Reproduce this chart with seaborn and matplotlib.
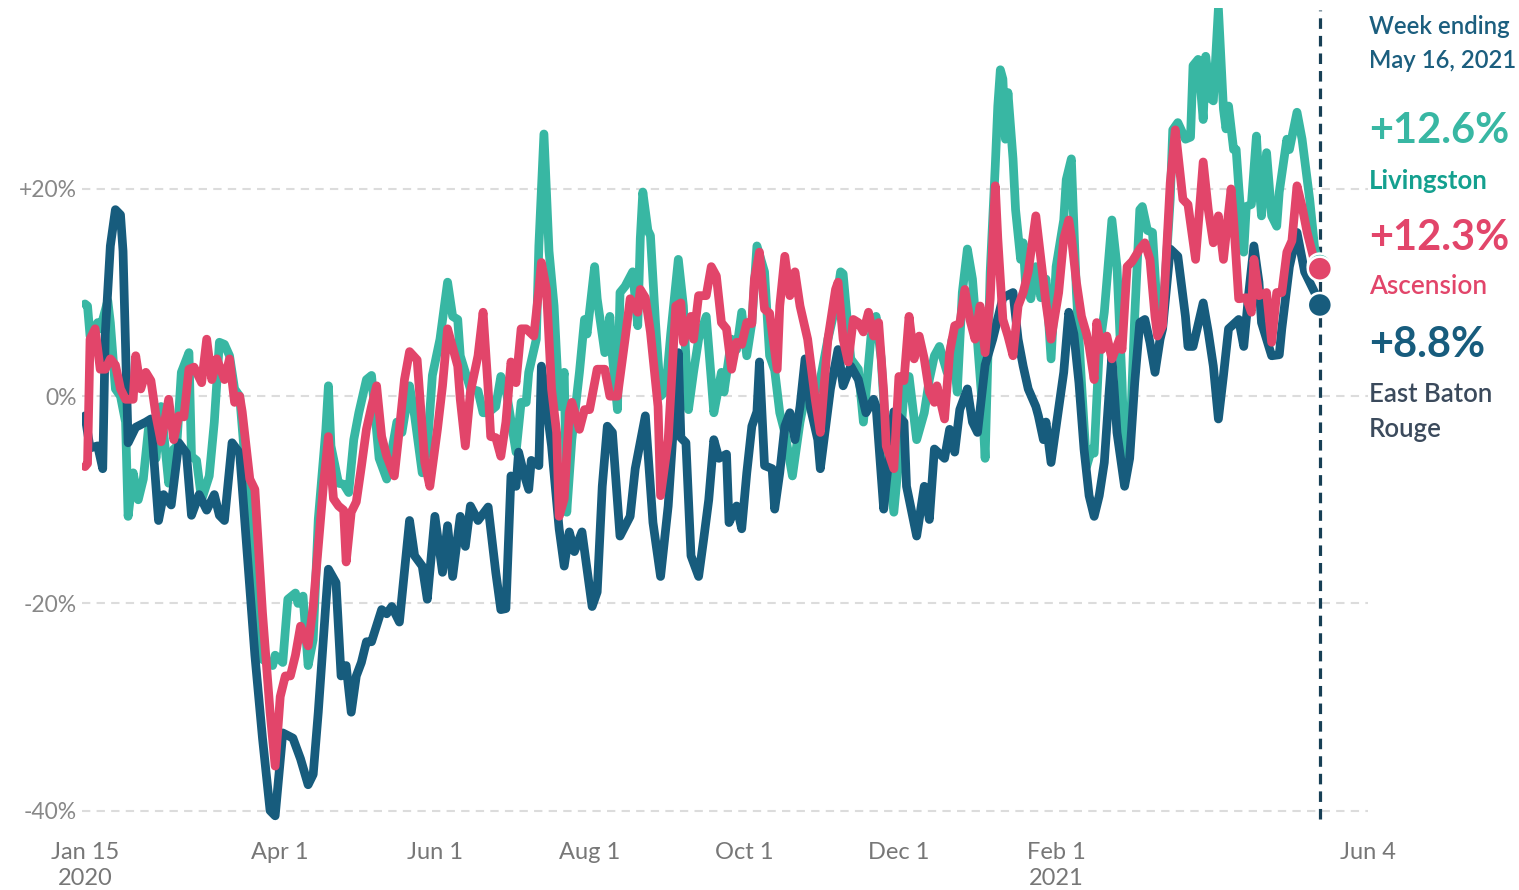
import numpy as np
import pandas as pd
import matplotlib
matplotlib.use("Agg")
import matplotlib.pyplot as plt
import seaborn as sns

# ---------------- data (days since Jan 15, 2020 ; % change) ----------------
start = pd.Timestamp("2020-01-15")

ebr_days = [0, 2, 5, 7, 8, 10, 12, 14, 15, 17,
            20, 24, 26, 29, 31, 34, 37, 40, 42, 45,
            48, 51, 53, 55, 58, 61, 63, 67, 70, 73,
            75, 78, 82, 85, 88, 90, 92, 95, 96, 99,
            101, 103, 105, 107, 109, 111, 113, 117, 119, 121,
            124, 128, 130, 133, 135, 138, 141, 143, 145, 148,
            150, 152, 155, 159, 162, 164, 166, 168, 170, 171,
            173, 175, 176, 179, 180, 183, 184, 187, 189, 191,
            193, 196, 200, 202, 204, 206, 208, 211, 215, 217,
            221, 224, 227, 230, 234, 235, 237, 239, 242, 244,
            246, 248, 250, 253, 254, 257, 259, 261, 263, 265,
            266, 268, 271, 272, 274, 276, 278, 280, 282, 284,
            286, 289, 290, 294, 297, 299, 302, 305, 308, 311,
            312, 315, 316, 319, 323, 324, 328, 331, 333, 335,
            339, 341, 343, 345, 348, 350, 352, 355, 358, 360,
            362, 366, 368, 370, 372, 375, 376, 378, 379, 381,
            383, 386, 388, 390, 392, 394, 396, 398, 400, 402,
            404, 405, 407, 410, 412, 414, 416, 418, 420, 422,
            424, 425, 428, 431, 434, 435, 437, 441, 443, 445,
            447, 449, 451, 455, 457, 459, 461, 463, 464, 468,
            471, 472, 475, 478, 481, 485, 487]
ebr_vals = [-1.9, -5.0, -4.8, -7.0, 6.0, 14.5, 18.0, 17.5, 14.0, -4.5,
            -3.0, -2.5, -2.2, -12.0, -9.5, -10.5, -4.5, -5.5, -11.5, -9.5,
            -11.0, -9.5, -11.5, -12.0, -4.5, -5.5, -12.0, -25.0, -33.0, -40.0,
            -40.5, -32.5, -33.0, -35.0, -37.5, -36.5, -30.5, -20.0, -16.7, -18.0,
            -27.0, -26.0, -30.5, -27.0, -25.7, -23.7, -23.7, -20.6, -21.0, -20.3,
            -21.8, -12.0, -15.4, -16.4, -19.6, -11.6, -17.0, -12.5, -17.4, -11.6,
            -14.5, -10.6, -12.0, -10.7, -17.0, -20.6, -20.5, -7.7, -8.7, -5.4,
            -7.4, -9.0, -6.2, -6.7, 2.9, -2.9, -4.8, -12.8, -16.4, -13.1,
            -15.0, -13.1, -20.3, -18.9, -8.7, -2.9, -3.5, -13.5, -11.6, -7.0,
            -1.9, -12.2, -17.4, -10.6, 4.2, -4.0, -4.5, -15.4, -17.4, -13.8,
            -10.0, -4.2, -6.0, -5.6, -12.2, -10.6, -12.8, -7.4, -2.9, -1.5,
            3.3, -6.7, -7.0, -10.9, -7.4, -2.9, -1.6, -4.2, -1.0, 3.6,
            -1.0, -4.2, -7.0, 0.7, 4.5, 1.0, 2.9, 1.6, -1.6, -0.3,
            -1.0, -10.9, -8.4, -1.5, -2.5, -8.7, -13.5, -8.7, -11.9, -5.1,
            -6.0, -3.2, -5.4, -1.3, 0.7, -2.5, -3.5, 3.0, 5.5, 7.5,
            9.5, 10.0, 5.5, 2.9, 0.7, -1.0, -1.9, -4.2, -2.5, -6.4,
            -2.9, 2.3, 8.1, 6.0, 1.3, -5.1, -9.6, -11.6, -9.6, -6.4,
            0.7, 3.9, -3.5, -8.7, -6.0, 1.3, 7.1, 7.4, 5.2, 2.3,
            5.5, 6.5, 14.2, 13.5, 7.7, 4.8, 4.8, 9.0, 6.2, 2.9,
            -2.2, 2.0, 6.5, 7.4, 4.8, 10.0, 14.5, 11.0, 7.1, 3.9,
            4.0, 6.5, 12.5, 15.8, 12.0, 10.0, 8.8]

liv_days = [0, 1, 2, 5, 6, 9, 10, 12, 14, 16,
            17, 19, 21, 23, 25, 26, 28, 30, 33, 35,
            36, 38, 41, 42, 44, 46, 49, 51, 53, 55,
            57, 59, 61, 64, 66, 70, 74, 75, 78, 80,
            83, 84, 86, 88, 90, 92, 95, 96, 97, 100,
            102, 104, 106, 108, 111, 113, 116, 119, 123, 125,
            128, 130, 133, 135, 137, 140, 143, 145, 147, 148,
            152, 155, 157, 159, 162, 164, 166, 170, 172, 174,
            175, 178, 179, 181, 183, 185, 187, 189, 190, 192,
            195, 197, 198, 201, 202, 205, 207, 208, 210, 211,
            213, 216, 218, 219, 220, 222, 223, 225, 227, 229,
            231, 234, 236, 238, 240, 242, 245, 247, 248, 251,
            252, 255, 257, 259, 261, 263, 265, 268, 270, 272,
            274, 276, 279, 282, 284, 286, 288, 290, 293, 296,
            298, 299, 302, 305, 307, 310, 312, 314, 316, 319,
            321, 323, 325, 327, 328, 331, 333, 335, 337, 340,
            342, 344, 346, 348, 350, 352, 354, 355, 357, 359,
            360, 361, 362, 363, 364, 366, 367, 369, 370, 371,
            373, 375, 377, 379, 381, 383, 386, 387, 389, 391,
            393, 395, 397, 398, 400, 402, 405, 407, 409, 410,
            412, 414, 416, 417, 419, 421, 423, 425, 428, 429,
            431, 434, 436, 437, 439, 441, 442, 444, 445, 447,
            449, 450, 451, 453, 454, 455, 457, 458, 460, 462,
            463, 464, 466, 468, 470, 471, 474, 475, 478, 480,
            483, 485, 487]
liv_vals = [8.9, 8.7, 5.8, 7.1, 6.5, 9.2, 7.1, 0.7, 0.0, -2.5,
            -11.6, -7.4, -10.0, -8.0, -3.2, -3.5, -6.0, -1.0, -8.4, -5.1,
            -5.5, 2.3, 4.2, -5.8, -6.2, -10.0, -7.7, -2.5, 5.2, 5.0,
            3.9, 0.7, 0.0, -9.0, -17.7, -25.4, -26.0, -25.0, -25.7, -19.6,
            -19.0, -20.0, -19.3, -26.0, -23.5, -11.9, -3.2, 1.0, -4.8, -8.4,
            -8.5, -9.3, -4.2, -1.6, 1.6, 2.0, -6.0, -8.0, -2.5, -3.5,
            1.0, -1.9, -7.4, -5.0, 2.0, 5.5, 11.0, 7.7, 7.4, 3.9,
            0.7, 0.5, -1.6, -1.6, -1.0, 1.9, 0.7, -5.4, -0.6, -0.6,
            2.3, 5.5, 14.5, 25.3, 14.0, 8.7, -1.0, 2.3, -11.2, -4.2,
            2.3, 7.4, 6.0, 12.5, 9.4, 4.2, 7.7, 3.9, -1.3, 10.0,
            10.6, 12.0, 6.8, 15.2, 19.7, 16.0, 15.5, 7.1, 0.0, 0.5,
            6.0, 13.2, 8.7, -1.3, 2.3, 5.5, 7.7, 1.6, -1.6, 2.3,
            0.4, 5.5, 4.5, 8.1, 3.9, 7.1, 14.5, 12.0, 3.9, 2.5,
            -1.6, -3.5, -7.7, -2.5, 0.0, -0.3, 0.4, 1.6, 5.5, 8.7,
            12.0, 11.8, 3.6, 2.6, -2.5, 5.8, 7.7, 3.6, -4.4, -11.2,
            -6.0, 0.4, 1.9, -2.2, -4.2, -1.6, 1.6, 3.9, 4.8, 2.3,
            5.5, 0.4, 10.0, 14.2, 11.3, 5.2, -1.3, -6.0, 12.0, 22.2,
            28.0, 31.5, 30.6, 24.8, 29.3, 22.9, 18.0, 13.2, 14.8, 10.6,
            9.4, 12.5, 9.5, 11.3, 3.6, 12.5, 17.0, 20.9, 22.9, 10.0,
            1.3, -6.8, -5.1, -5.5, 4.5, 8.1, 17.0, 12.5, 1.3, -6.8,
            -5.1, 7.7, 18.0, 18.3, 16.0, 15.8, 7.7, 7.4, 19.0, 25.7,
            26.4, 24.8, 25.0, 31.9, 32.5, 26.7, 32.8, 28.7, 28.5, 37.4,
            27.7, 25.8, 28.0, 23.8, 23.8, 20.3, 13.9, 18.3, 18.5, 25.1,
            20.6, 17.4, 23.5, 17.4, 16.4, 19.7, 24.8, 23.8, 27.4, 24.8,
            19.0, 14.2, 12.6]

asc_days = [0, 1, 2, 4, 6, 8, 10, 12, 14, 16,
            19, 20, 22, 24, 26, 28, 30, 33, 35, 37,
            39, 41, 43, 46, 48, 50, 52, 55, 57, 59,
            61, 62, 65, 67, 70, 73, 75, 77, 79, 81,
            83, 85, 88, 90, 92, 94, 96, 98, 100, 102,
            103, 105, 107, 109, 111, 113, 115, 117, 119, 122,
            124, 126, 128, 131, 134, 136, 139, 141, 143, 147,
            148, 150, 152, 155, 157, 159, 160, 162, 164, 166,
            168, 170, 172, 174, 177, 179, 180, 182, 184, 186,
            187, 189, 191, 192, 195, 197, 199, 202, 205, 207,
            210, 213, 215, 218, 219, 221, 223, 226, 227, 230,
            233, 235, 236, 239, 240, 242, 245, 247, 249, 251,
            253, 255, 257, 259, 261, 263, 264, 266, 268, 270,
            273, 274, 276, 278, 280, 282, 285, 288, 290, 293,
            296, 297, 299, 301, 303, 305, 307, 309, 311, 313,
            315, 316, 319, 321, 323, 325, 327, 329, 331, 333,
            335, 336, 339, 341, 343, 345, 347, 349, 351, 353,
            355, 357, 359, 360, 362, 364, 366, 368, 370, 372,
            375, 377, 379, 381, 384, 386, 388, 389, 391, 393,
            395, 396, 398, 399, 401, 403, 405, 408, 409, 411,
            413, 416, 418, 420, 422, 423, 425, 428, 430, 431,
            433, 435, 438, 441, 443, 445, 447, 449, 452, 453,
            455, 458, 460, 461, 463, 466, 468, 470, 472, 474,
            476, 478, 480, 482, 485, 487]
asc_vals = [-6.8, -6.5, 5.5, 6.5, 2.6, 2.6, 3.6, 3.0, 0.7, -0.3,
            -0.3, 3.9, 0.7, 2.3, 1.5, -1.9, -4.4, -0.3, -4.2, -1.9,
            -2.0, 2.6, 2.8, 1.3, 5.5, 1.6, 3.6, 1.6, 3.6, -0.6,
            0.0, -1.5, -8.0, -9.0, -20.9, -30.5, -35.7, -29.0, -27.0, -27.0,
            -25.0, -22.2, -24.1, -20.3, -14.5, -8.7, -3.9, -9.9, -10.6, -11.0,
            -16.0, -11.2, -10.2, -6.8, -3.2, -1.0, 1.0, -3.9, -5.8, -7.7,
            -3.2, 1.6, 4.3, 3.5, -6.4, -8.7, -3.2, 1.0, 6.5, 2.9,
            -0.3, -4.8, 0.4, 3.9, 8.1, 0.7, -3.9, -4.0, -5.8, -2.5,
            3.3, 1.3, 6.5, 6.5, 5.8, 10.3, 12.9, 10.3, 0.7, -3.5,
            -11.6, -9.9, -1.6, -0.6, -3.2, -1.3, -1.3, 2.6, 2.6, 0.0,
            0.0, 5.5, 9.4, 8.1, 10.3, 9.5, 6.2, -1.0, -9.6, -4.2,
            8.7, 9.0, 5.2, 7.7, 5.5, 9.7, 9.7, 12.5, 11.6, 7.1,
            6.5, 2.6, 5.2, 5.0, 7.1, 7.0, 11.3, 13.9, 8.4, 8.0,
            2.6, 8.7, 13.5, 9.7, 12.0, 8.7, 5.5, -0.3, -3.5, 5.5,
            10.3, 11.0, 5.5, 3.3, 7.4, 7.1, 6.2, 8.1, 5.8, 7.1,
            0.4, -4.8, -7.0, 1.9, 1.5, 7.7, 3.6, 5.8, 3.6, 0.4,
            -0.6, 1.0, -2.2, 4.2, 6.8, 7.0, 10.3, 7.4, 5.5, 8.7,
            4.2, 9.4, 20.3, 15.2, 7.4, 5.8, 3.9, 8.7, 10.0, 12.0,
            17.4, 13.2, 9.0, 5.5, 10.0, 15.2, 17.0, 15.4, 11.0, 7.7,
            6.0, 4.8, 1.6, 7.1, 4.5, 5.8, 3.6, 5.5, 4.5, 12.5,
            13.0, 14.2, 14.8, 13.2, 7.7, 5.8, 6.8, 20.6, 25.7, 23.5,
            19.0, 18.5, 13.2, 22.6, 18.0, 14.8, 17.4, 13.2, 20.0, 17.0,
            9.4, 9.5, 8.1, 13.2, 9.7, 10.0, 5.2, 10.0, 10.0, 13.9,
            15.0, 20.3, 18.3, 15.8, 12.9, 12.3]

counties = ["Livingston", "East Baton Rouge", "Ascension"]
colors = {"Livingston": "#38b7a3", "East Baton Rouge": "#175c7d", "Ascension": "#e2456a"}

x_ticks = ["2020-01-15", "2020-04-01", "2020-06-01", "2020-08-01",
           "2020-10-01", "2020-12-01", "2021-02-01", "2021-06-04"]
x_tick_labels = ["Jan 15\n2020", "Apr 1", "Jun 1", "Aug 1", "Oct 1", "Dec 1", "Feb 1\n2021", "Jun 4"]
y_ticks = [-40, -20, 0, 20]
y_tick_labels = ["-40%", "-20%", "0%", "+20%"]
week_end = "2021-05-16"

# ---------------- build frame ----------------
def frame(days, vals, name):
    n = min(len(days), len(vals))
    return pd.DataFrame({
        "date": start + pd.to_timedelta(np.array(days[:n]), unit="D"),
        "change": vals[:n],
        "county": name,
    })

df = pd.concat([frame(liv_days, liv_vals, "Livingston"),
                frame(ebr_days, ebr_vals, "East Baton Rouge"),
                frame(asc_days, asc_vals, "Ascension")], ignore_index=True)

# ---------------- plot ----------------
sns.set_theme(style="white")
plt.rcParams["font.family"] = ["Lato", "DejaVu Sans"]

W, H = 1519, 890
fig = plt.figure(figsize=(W / 100, H / 100), dpi=100)
ax_left, ax_right, ax_top, ax_bottom = 82, 1368, 7.6, 821
ax = fig.add_axes([ax_left / W, 1 - ax_bottom / H, (ax_right - ax_left) / W, (ax_bottom - ax_top) / H])

for y in y_ticks:
    ax.axhline(y, color="#dcdcdc", lw=1.5, linestyle=(0, (4, 3)), zorder=0)

sns.lineplot(data=df, x="date", y="change", hue="county", hue_order=counties,
             palette=colors, linewidth=6.3, legend=False, estimator=None, sort=True,
             ax=ax, solid_joinstyle="round", solid_capstyle="round")

ax.axvline(pd.Timestamp(week_end), ymin=0.003, ymax=0.997, color="#173f55", lw=2.3,
           linestyle=(0, (3.3, 2.2)), zorder=1)

last = df.groupby("county", sort=False).tail(1)
last = last.set_index("county").loc[["East Baton Rouge", "Livingston", "Ascension"]].reset_index()
sns.scatterplot(data=last, x="date", y="change", hue="county", palette=colors,
                s=300, edgecolor="white", linewidth=1.8, legend=False, ax=ax, zorder=5,
                clip_on=False)

ax.set_xlim(start - pd.Timedelta(days=1.18), start + pd.Timedelta(days=504.1))
ax.set_ylim(-41, 37.5)
ax.set_xticks([pd.Timestamp(t) for t in x_ticks])
ax.set_xticklabels(x_tick_labels, fontsize=17, color="#777777", linespacing=1.3)
ax.set_yticks(y_ticks)
ax.set_yticklabels(y_tick_labels, fontsize=16.5, color="#888888")
ax.tick_params(axis="x", length=0, pad=15)
ax.tick_params(axis="y", length=0, pad=4)
ax.set_xlabel("")
ax.set_ylabel("")
for s in ax.spines.values():
    s.set_visible(False)
ax.grid(False)

# ---------------- right-hand annotations ----------------
tx = 1369 / W
def ftext(ypx, s, color, size, weight):
    fig.text(tx, 1 - ypx / H, s, color=color, fontsize=size, fontweight=weight,
             ha="left", va="center")

ftext(27, "Week ending", "#1b5e7e", 17.2, "semibold")
ftext(60, "May 16, 2021", "#1b5e7e", 17.2, "semibold")
ftext(131, "+12.6%", "#38b7a3", 30, "bold")
ftext(181, "Livingston", "#14a08f", 18.5, "bold")
ftext(238, "+12.3%", "#e2456a", 30, "bold")
ftext(287, "Ascension", "#e2456a", 18.8, "semibold")
ftext(345, "+8.8%", "#175c7d", 30, "bold")
ftext(395, "East Baton", "#3b4a5c", 18.5, "semibold")
ftext(429, "Rouge", "#3b4a5c", 18.5, "semibold")

fig.savefig("out.png", dpi=100)
